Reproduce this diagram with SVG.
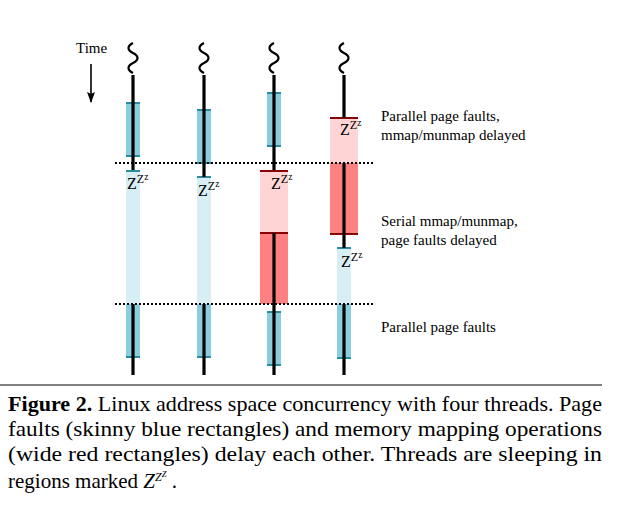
<svg xmlns="http://www.w3.org/2000/svg" width="621" height="516" viewBox="0 0 621 516">
<defs>
<style>
.txt{font-family:"Liberation Serif","Times New Roman",serif;fill:#000}
.pf{fill:#8ACEDE}
.lb{fill:#D6EEF4}
.pk{fill:#FFD4D4}
.rd{fill:#FF8080}
.bcap{stroke:#2B8BA1;stroke-width:2}
.rcap{stroke:#8B0000;stroke-width:2}
.thr{stroke:#000;stroke-width:3.2;fill:none}
.sq{stroke:#000;stroke-width:2.2;fill:none}
.dot{stroke:#000;stroke-width:2;stroke-dasharray:2 2}
.z{font-family:"Liberation Serif","Times New Roman",serif;fill:#000}
</style>
<marker id="ah" markerWidth="11" markerHeight="8" refX="10" refY="4" orient="auto" markerUnits="userSpaceOnUse" viewBox="0 0 11 8">
<path d="M0,0 L11,4 L0,8 L2,4 Z" fill="#000"/>
</marker>
<path id="squig" d="M0,0 C-6,3 -6,7 0,10 C6,13 6,17 0,20 C-6,23 -6,27 0,30"/>
</defs>

<g id="time">
<text class="txt" x="76" y="53" font-size="15">Time</text>
<line x1="91" y1="64" x2="91" y2="102" stroke="#000" stroke-width="1.6" marker-end="url(#ah)"/>
</g>

<g id="thread1">
<use href="#squig" x="133" y="43" class="sq"/>
<rect class="pf" x="126" y="103" width="14" height="53"/>
<line class="bcap" x1="126" y1="103" x2="140" y2="103"/>
<line class="bcap" x1="126" y1="156" x2="140" y2="156"/>
<rect class="lb" x="126" y="170" width="14" height="134"/>
<line class="bcap" x1="126" y1="171" x2="140" y2="171"/>
<rect class="pf" x="126" y="304" width="14" height="53"/>
<line class="bcap" x1="126" y1="357" x2="140" y2="357"/>
<line class="thr" x1="133" y1="75" x2="133" y2="170"/>
<line class="thr" x1="133" y1="304" x2="133" y2="375"/>
<text class="z" x="127" y="189" font-size="16">Z<tspan font-size="12" dy="-6">Z</tspan><tspan font-size="9.5" dy="-3">z</tspan></text>
</g>

<g id="thread2">
<use href="#squig" x="204" y="43" class="sq"/>
<rect class="pf" x="197" y="110" width="14" height="53"/>
<line class="bcap" x1="197" y1="110" x2="211" y2="110"/>
<line class="bcap" x1="197" y1="163" x2="211" y2="163"/>
<rect class="lb" x="197" y="177" width="14" height="127"/>
<line class="bcap" x1="197" y1="177" x2="211" y2="177"/>
<rect class="pf" x="197" y="304" width="14" height="53"/>
<line class="bcap" x1="197" y1="357" x2="211" y2="357"/>
<line class="thr" x1="204" y1="75" x2="204" y2="177"/>
<line class="thr" x1="204" y1="304" x2="204" y2="375"/>
<text class="z" x="198" y="196" font-size="16">Z<tspan font-size="12" dy="-6">Z</tspan><tspan font-size="9.5" dy="-3">z</tspan></text>
</g>

<g id="thread3">
<use href="#squig" x="274" y="43" class="sq"/>
<rect class="pf" x="267" y="92" width="14" height="54"/>
<line class="bcap" x1="267" y1="93" x2="281" y2="93"/>
<line class="bcap" x1="267" y1="146" x2="281" y2="146"/>
<rect class="pk" x="260" y="170" width="28" height="63"/>
<line class="rcap" x1="260" y1="171" x2="288" y2="171"/>
<rect class="rd" x="260" y="233" width="28" height="71"/>
<line class="rcap" x1="260" y1="233" x2="288" y2="233"/>
<rect class="pf" x="267" y="311" width="14" height="54"/>
<line class="bcap" x1="267" y1="312" x2="281" y2="312"/>
<line class="bcap" x1="267" y1="365" x2="281" y2="365"/>
<line class="thr" x1="274" y1="75" x2="274" y2="170"/>
<line class="thr" x1="274" y1="233" x2="274" y2="375"/>
<text class="z" x="271" y="189" font-size="16">Z<tspan font-size="12" dy="-6">Z</tspan><tspan font-size="9.5" dy="-3">z</tspan></text>
</g>

<g id="thread4">
<use href="#squig" x="344" y="43" class="sq"/>
<rect class="pk" x="330" y="117" width="28" height="46"/>
<line class="rcap" x1="330" y1="118" x2="358" y2="118"/>
<rect class="rd" x="330" y="163" width="28" height="71"/>
<line class="rcap" x1="330" y1="234" x2="358" y2="234"/>
<rect class="lb" x="337" y="248" width="14" height="56"/>
<line class="bcap" x1="337" y1="248" x2="351" y2="248"/>
<rect class="pf" x="337" y="304" width="14" height="54"/>
<line class="bcap" x1="337" y1="358" x2="351" y2="358"/>
<line class="thr" x1="344" y1="75" x2="344" y2="118"/>
<line class="thr" x1="344" y1="163" x2="344" y2="248"/>
<line class="thr" x1="344" y1="304" x2="344" y2="375"/>
<text class="z" x="340" y="135" font-size="16">Z<tspan font-size="12" dy="-6">Z</tspan><tspan font-size="9.5" dy="-3">z</tspan></text>
<text class="z" x="341" y="267" font-size="16">Z<tspan font-size="12" dy="-6">Z</tspan><tspan font-size="9.5" dy="-3">z</tspan></text>
</g>

<g id="connectors">
<line class="dot" x1="115" y1="163" x2="373" y2="163"/>
<line class="dot" x1="115" y1="304" x2="373" y2="304"/>
</g>

<g id="labels">
<text class="txt" x="381" y="121" font-size="15">Parallel page faults,</text>
<text class="txt" x="381" y="140" font-size="15">mmap/munmap delayed</text>
<text class="txt" x="381" y="226" font-size="15">Serial mmap/munmap,</text>
<text class="txt" x="381" y="245" font-size="15">page faults delayed</text>
<text class="txt" x="381" y="332" font-size="15">Parallel page faults</text>
</g>

<g id="caption">
<line x1="0" y1="385" x2="602" y2="385" stroke="#000" stroke-width="1"/>
<text class="txt" x="8" y="411" font-size="21" textLength="594" lengthAdjust="spacingAndGlyphs"><tspan font-weight="bold">Figure 2.</tspan>  Linux address space concurrency with four threads. Page</text>
<text class="txt" x="8" y="436" font-size="21" textLength="594" lengthAdjust="spacingAndGlyphs">faults (skinny blue rectangles) and memory mapping operations</text>
<text class="txt" x="8" y="461" font-size="21" textLength="594" lengthAdjust="spacingAndGlyphs">(wide red rectangles) delay each other. Threads are sleeping in</text>
<text class="txt" x="8" y="488" font-size="21">regions marked <tspan font-style="italic">Z</tspan><tspan font-size="12" dy="-7" font-style="italic">Z</tspan><tspan font-size="8.5" dy="-4" font-style="italic">Z</tspan><tspan dy="11"> .</tspan></text>
</g>
</svg>
